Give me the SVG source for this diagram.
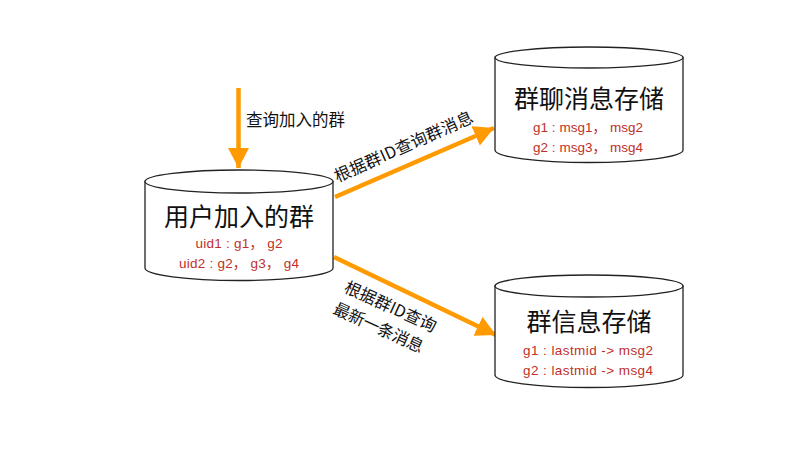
<svg xmlns="http://www.w3.org/2000/svg" width="808" height="449" viewBox="0 0 808 449">
<style>
.cyl{fill:#fff;stroke:#222;stroke-width:1.3}
.title{font-family:"Noto Sans CJK SC","Liberation Sans",sans-serif;font-size:25px;fill:#111;text-anchor:middle}
.red{font-family:"Liberation Sans","Noto Sans CJK SC",sans-serif;font-size:13.5px;fill:#c0302a;text-anchor:middle}
.lbl{font-family:"Noto Sans CJK SC","Liberation Sans",sans-serif;font-size:16.5px;fill:#111}
.arr{stroke:#ff9a00;stroke-width:4.5;fill:none;marker-end:url(#ah)}
</style>
<defs>
<marker id="ah" markerUnits="userSpaceOnUse" markerWidth="22" markerHeight="22" refX="20" refY="10.5" orient="auto" viewBox="0 0 22 21">
<path d="M0,0 L20,10.5 L0,21 Z" fill="#ff9a00"/>
</marker>
</defs>
<rect width="808" height="449" fill="#fff"/>

<g id="connectors">
<line class="arr" x1="238.5" y1="88" x2="238.5" y2="168"/>
<line class="arr" x1="335" y1="197" x2="494" y2="128"/>
<line class="arr" x1="334" y1="257" x2="496" y2="335"/>
<text class="lbl" x="246" y="126" textLength="99" lengthAdjust="spacing">查询加入的群</text>
<g transform="translate(406,152) rotate(-24)">
<text class="lbl" x="0" y="0" text-anchor="middle" textLength="150" lengthAdjust="spacing">根据群ID查询群消息</text>
</g>
<g transform="translate(388,312) rotate(24.5)">
<text class="lbl" x="0" y="0" text-anchor="middle" textLength="99" lengthAdjust="spacing">根据群ID查询</text>
<text class="lbl" x="-2" y="24" text-anchor="middle" textLength="97" lengthAdjust="spacing">最新一条消息</text>
</g>
</g>

<g id="user-groups">
<path class="cyl" d="M145,181.5 L145,268 A94,12.5 0 0 0 333,268 L333,181.5 Z"/>
<ellipse class="cyl" cx="239" cy="181.5" rx="94" ry="11.5"/>
<text class="title" x="239" y="226">用户加入的群</text>
<text class="red" x="239" y="248" textLength="87" lengthAdjust="spacing">uid1 : g1， g2</text>
<text class="red" x="239" y="268" textLength="120" lengthAdjust="spacing">uid2 : g2， g3， g4</text>
</g>

<g id="group-msg-store">
<path class="cyl" d="M495,57.5 L495,150 A94,12.5 0 0 0 683,150 L683,57.5 Z"/>
<ellipse class="cyl" cx="589" cy="57.5" rx="94" ry="10.5"/>
<text class="title" x="589" y="108">群聊消息存储</text>
<text class="red" x="588" y="132" textLength="110" lengthAdjust="spacing">g1 : msg1， msg2</text>
<text class="red" x="588" y="152" textLength="110" lengthAdjust="spacing">g2 : msg3， msg4</text>
</g>

<g id="group-info-store">
<path class="cyl" d="M495,286 L495,375 A94,12.5 0 0 0 683,375 L683,286 Z"/>
<ellipse class="cyl" cx="589" cy="286" rx="94" ry="11"/>
<text class="title" x="589" y="331">群信息存储</text>
<text class="red" x="588" y="355" textLength="130" lengthAdjust="spacing">g1 : lastmid -&gt; msg2</text>
<text class="red" x="588" y="375" textLength="130" lengthAdjust="spacing">g2 : lastmid -&gt; msg4</text>
</g>
</svg>
